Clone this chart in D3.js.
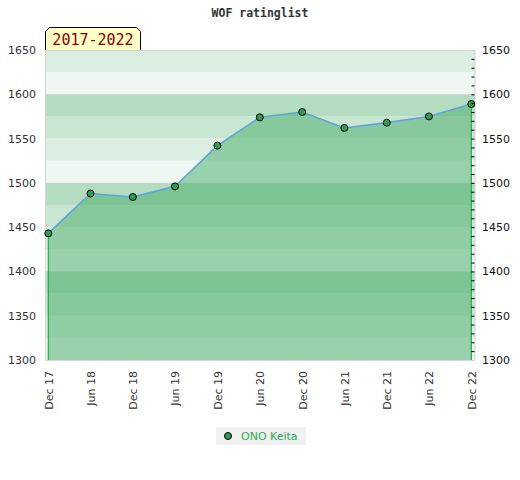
<!DOCTYPE html>
<html>
<head>
<meta charset="utf-8">
<script src="https://cdn.jsdelivr.net/npm/d3@7"></script>
<style>
  body { margin: 0; background: #fff; }
  svg { display: block; }
</style>
</head>
<body>
<div id="chart"></div>
<script>
// data
const dates = ['2017-12', '2018-06', '2018-12', '2019-06', '2019-12', '2020-06',
  '2020-12', '2021-06', '2021-12', '2022-06', '2022-12'];
const ratings = [1443, 1488, 1484, 1496, 1542, 1574, 1580, 1562, 1568, 1575, 1589];
const yTicks = [1300, 1350, 1400, 1450, 1500, 1550, 1600, 1650];
const playerName = 'ONO Keita';
const periodLabel = '2017-2022';
const chartTitle = 'WOF ratinglist';

const W = 520, H = 480;
const plot = { left: 45, right: 475, top: 50, bottom: 360 };
const parse = d3.timeParse('%Y-%m');
const data = dates.map((d, i) => ({ date: parse(d), value: ratings[i] }));

const svg = d3.select('#chart').append('svg')
  .attr('width', W).attr('height', H);

// scales
const x = d3.scaleTime()
  .domain(d3.extent(data, d => d.date))
  .range([48.3, 471.3]);
const y = d3.scaleLinear()
  .domain([1300, 1650])
  .range([plot.bottom, plot.top]);

// title
svg.append('text')
  .attr('x', W / 2).attr('y', 17)
  .attr('text-anchor', 'middle')
  .attr('font-family', 'DejaVu Sans Mono')
  .attr('font-weight', 'bold')
  .attr('font-size', 11.5)
  .attr('fill', '#333')
  .text(chartTitle);

// background bands every 25, shade depends on position within the hundred
const bandColors = ['#eef7f1', '#dbeee2', '#c8e6d2', '#b3dcc0'];
const bands = d3.range(1300, 1650, 25);
svg.append('g').selectAll('rect')
  .data(bands)
  .join('rect')
  .attr('x', plot.left)
  .attr('width', plot.right - plot.left)
  .attr('y', d => y(d + 25))
  .attr('height', d => y(d) - y(d + 25))
  .attr('fill', d => bandColors[((d % 100) / 25)]);

// grid lines at hundreds
svg.append('g').selectAll('line')
  .data([1400, 1500, 1600])
  .join('line')
  .attr('x1', plot.left).attr('x2', plot.right)
  .attr('y1', d => y(d) + 0.5).attr('y2', d => y(d) + 0.5)
  .attr('stroke', '#cfcfcf');

// area under the line
const area = d3.area()
  .x(d => x(d.date))
  .y0(y(1300))
  .y1(d => y(d.value));
svg.append('path')
  .datum(data)
  .attr('fill', 'rgb(74,174,110)')
  .attr('fill-opacity', 0.52)
  .attr('d', area);

// green edges of the area
const first = data[0], last = data[data.length - 1];
svg.append('g').selectAll('line')
  .data([first, last])
  .join('line')
  .attr('x1', d => x(d.date)).attr('x2', d => x(d.date))
  .attr('y1', d => y(d.value)).attr('y2', y(1300))
  .attr('stroke', '#22a84a')
  .attr('stroke-width', 1.2);

// plot frame
svg.append('path')
  .attr('d', `M${plot.left + 0.5},${plot.top}V${plot.bottom + 0.5}H${plot.right}V${plot.top + 0.5}H${plot.left}`)
  .attr('fill', 'none')
  .attr('stroke', '#d4d4d4');

// line
const line = d3.line()
  .x(d => x(d.date))
  .y(d => y(d.value));
svg.append('path')
  .datum(data)
  .attr('fill', 'none')
  .attr('stroke', '#5fa3dc')
  .attr('stroke-width', 1.6)
  .attr('d', line);

// points
svg.append('g').selectAll('circle')
  .data(data)
  .join('circle')
  .attr('cx', d => x(d.date))
  .attr('cy', d => y(d.value))
  .attr('r', 3.5)
  .attr('fill', '#2e9e57')
  .attr('stroke', '#000')
  .attr('stroke-width', 1);

// left axis labels
const leftAxis = d3.axisLeft(y).tickValues(yTicks).tickSize(0).tickPadding(9)
  .tickFormat(d3.format('d'));
const gl = svg.append('g')
  .attr('transform', `translate(${plot.left},0)`)
  .call(leftAxis);
gl.select('.domain').remove();
gl.selectAll('text')
  .attr('font-family', 'DejaVu Sans')
  .attr('font-size', 11)
  .attr('fill', '#333');

// right axis labels
const rightAxis = d3.axisRight(y).tickValues(yTicks).tickSize(0).tickPadding(7)
  .tickFormat(d3.format('d'));
const gr = svg.append('g')
  .attr('transform', `translate(${plot.right},0)`)
  .call(rightAxis);
gr.select('.domain').remove();
gr.selectAll('text')
  .attr('font-family', 'DejaVu Sans')
  .attr('font-size', 11)
  .attr('fill', '#111');

// minor ticks on the right edge
const minor = d3.axisLeft(y).tickValues(d3.range(1310, 1650, 10)).tickSize(3).tickFormat('');
const gm = svg.append('g')
  .attr('transform', `translate(${plot.right - 0.5},0)`)
  .call(minor);
gm.select('.domain').remove();
gm.selectAll('line').attr('stroke', '#000');

// x axis labels, rotated
const xAxis = d3.axisBottom(x)
  .tickValues(data.map(d => d.date))
  .tickSize(0)
  .tickFormat(d3.timeFormat('%b %y'));
const gx = svg.append('g')
  .attr('transform', `translate(0,${plot.bottom})`)
  .call(xAxis);
gx.select('.domain').remove();
gx.selectAll('text')
  .attr('font-family', 'DejaVu Sans')
  .attr('font-size', 11)
  .attr('fill', '#333')
  .attr('text-anchor', 'end')
  .attr('transform', 'rotate(-90)')
  .attr('x', -11)
  .attr('y', 0)
  .attr('dy', '0.35em');

// period label box with chamfered top corners
const bx0 = 45.5, bx1 = 140.5, by0 = 27.5, by1 = 50, c = 4;
svg.append('path')
  .attr('d', `M${bx0},${by1}V${by0 + c}L${bx0 + c},${by0}H${bx1 - c}L${bx1},${by0 + c}V${by1}`)
  .attr('fill', '#ffffc8')
  .attr('stroke', '#000');
svg.append('text')
  .attr('x', (bx0 + bx1) / 2).attr('y', 45)
  .attr('text-anchor', 'middle')
  .attr('font-family', 'DejaVu Sans Mono')
  .attr('font-size', 15)
  .attr('fill', '#8b0000')
  .text(periodLabel);

// legend
const lg = svg.append('g').attr('transform', 'translate(216,427)');
lg.append('rect')
  .attr('width', 90).attr('height', 18)
  .attr('fill', '#f0f0f0');
lg.append('circle')
  .attr('cx', 12).attr('cy', 9)
  .attr('r', 3.5)
  .attr('fill', '#2e9e57')
  .attr('stroke', '#000');
lg.append('text')
  .attr('x', 25).attr('y', 13)
  .attr('font-family', 'DejaVu Sans')
  .attr('font-size', 11)
  .attr('fill', '#2eaa5a')
  .text(playerName);
</script>
</body>
</html>
